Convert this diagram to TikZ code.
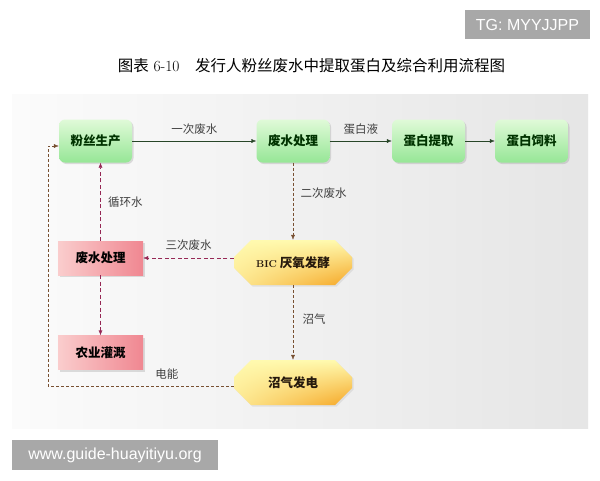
\documentclass[tikz,border=0pt]{standalone}
\usepackage{fontspec}
\newfontfamily\cjk{Noto Sans CJK SC}
\newfontfamily\wmfont{Liberation Sans}
\usetikzlibrary{arrows.meta,shapes.misc,shadows,shadings}
\definecolor{greenL}{RGB}{224,250,216}
\definecolor{greenD}{RGB}{150,230,150}
\definecolor{pinkL}{RGB}{250,205,205}
\definecolor{pinkD}{RGB}{240,135,145}
\definecolor{yelL}{RGB}{255,250,175}
\definecolor{yelD}{RGB}{245,165,35}
\definecolor{solidline}{RGB}{40,70,40}
\definecolor{brownline}{RGB}{120,80,50}
\definecolor{redline}{RGB}{150,40,85}
\definecolor{wmgray}{RGB}{168,168,168}
\begin{document}
\begin{tikzpicture}[x=1pt,y=-1pt]
  \tikzstyle{greenbox}=[rectangle,rounded corners=6pt,minimum width=73pt,minimum height=43pt,top color=greenL,bottom color=greenD,drop shadow={opacity=0.25,shadow xshift=1.5pt,shadow yshift=-1.5pt},font=\cjk\bfseries\fontsize{12.5}{14}\selectfont,text=black!80!green]
  \tikzstyle{pinkbox}=[rectangle,minimum width=85pt,minimum height=34pt,left color=pinkL,right color=pinkD,drop shadow={opacity=0.25,shadow xshift=2pt,shadow yshift=-2pt},font=\cjk\bfseries\fontsize{12.5}{14}\selectfont]
  \tikzstyle{yelbox}=[chamfered rectangle,chamfered rectangle xsep=11pt,chamfered rectangle ysep=11pt,minimum width=118pt,minimum height=45pt,inner sep=0pt,upper left=yelL,upper right=yelL,lower left=yelL!80!yelD,lower right=yelD,drop shadow={opacity=0.15,shadow xshift=1.5pt,shadow yshift=-1.5pt},font=\cjk\bfseries\fontsize{12.5}{14}\selectfont,text=black!80!brown]
  \tikzstyle{solidarrow}=[draw=solidline,-{Latex[length=5pt,width=4pt]}]
  \tikzstyle{brownarrow}=[draw=brownline,dash pattern=on 3pt off 2pt,-{Latex[length=5pt,width=4pt]}]
  \tikzstyle{redarrow}=[draw=redline,dash pattern=on 4pt off 2.5pt,-{Latex[length=5pt,width=4pt]}]
  \tikzstyle{flowlabel}=[font=\cjk\fontsize{11.5}{13}\selectfont,text=black!75]
  \useasboundingbox (0,0) rectangle (600,480);
  \fill[white] (0,0) rectangle (600,480);
  \fill[left color=gray!3,right color=gray!20] (12,94) rectangle (588,428);

  \node[fill=wmgray,text=white,font=\wmfont\fontsize{16}{18}\selectfont,minimum width=125pt,minimum height=29pt,inner sep=0pt] (tg) at (527.5,24.5) {TG: MYYJJPP};
  \node[font=\fontsize{15.5}{18}\selectfont] (title) at (311.5,66) {{\cjk 图表} 6-10\quad{\cjk 发行人粉丝废水中提取蛋白及综合利用流程图}};

  \node[greenbox] (fensi) at (95.5,141) {粉丝生产};
  \node[greenbox] (fsA) at (293,141) {废水处理};
  \draw[solidarrow] (fensi.east) -- (fsA.west) node[flowlabel,above=3pt,midway] {一次废水};

  \node[greenbox] (tiqu) at (428.5,141) {蛋白提取};
  \draw[solidarrow] (fsA.east) -- (tiqu.west) node[flowlabel,above=3pt,midway] {蛋白液};

  \node[greenbox] (siliao) at (531.5,141) {蛋白饲料};
  \draw[solidarrow] (tiqu.east) -- (siliao.west);

  \node[yelbox] (bic) at (293,262.5) {{\rmfamily\bfseries\fontsize{10}{12}\selectfont BIC} 厌氧发酵};
  \draw[brownarrow] (fsA.south) -- (bic.north) node[flowlabel,right=4pt,pos=0.4] {二次废水};

  \node[pinkbox] (fsB) at (100.5,258) {废水处理};
  \draw[redarrow] (bic.west |- fsB.east) -- (fsB.east) node[flowlabel,above=4pt,midway] {三次废水};
  \draw[redarrow] (fsB.north) -- (fsB.north |- fensi.south) node[flowlabel,right=4pt,midway] {循环水};

  \node[pinkbox] (nongye) at (100.5,352.5) {农业灌溉};
  \draw[redarrow] (fsB.south) -- (nongye.north);

  \node[yelbox] (fadian) at (293,382.5) {沼气发电};
  \draw[brownarrow] (bic.south) -- (fadian.north) node[flowlabel,right=6pt,pos=0.45] {沼气};

  \coordinate (dnleft) at (48,386);
  \draw[brownarrow] (fadian.west |- dnleft) -- (dnleft) node[flowlabel,above=3pt,pos=0.36] {电能} |- ([yshift=-5pt]fensi.west);

  \node[fill=wmgray,text=white,font=\wmfont\fontsize{16}{18}\selectfont,minimum width=206pt,minimum height=30pt,inner sep=0pt] (url) at (115,455) {www.guide-huayitiyu.org};
\end{tikzpicture}
\end{document}
